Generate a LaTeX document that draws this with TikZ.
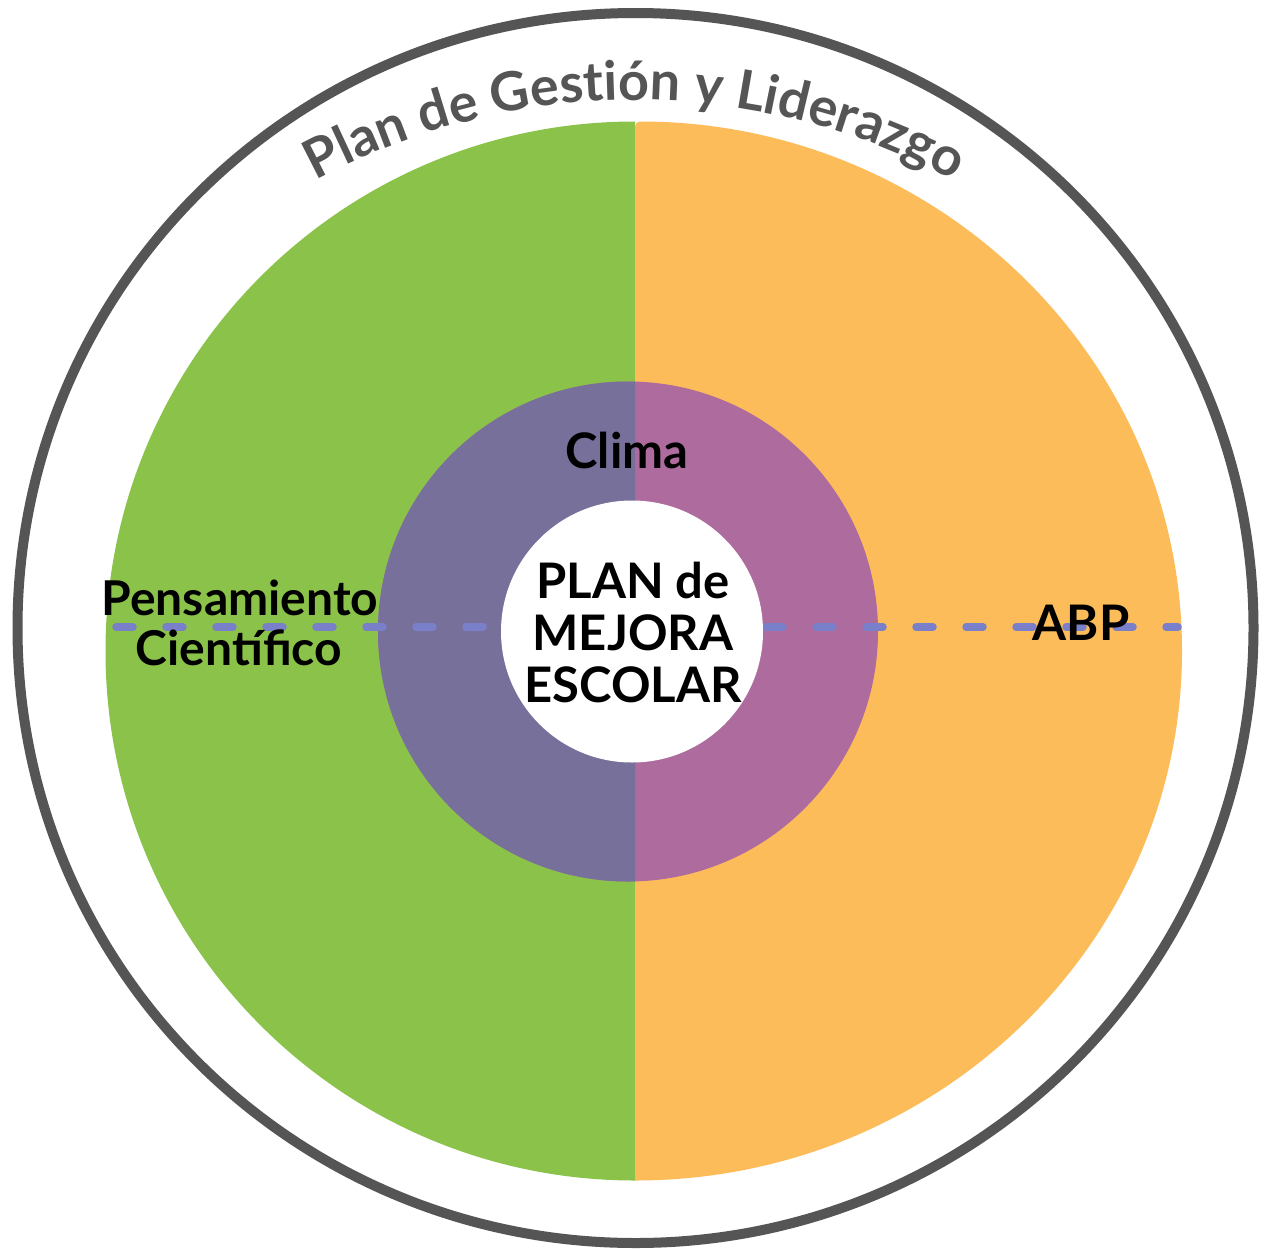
\documentclass[tikz,border=0pt]{standalone}
\usepackage{fontspec}
\setmainfont{Lato}
\usetikzlibrary{decorations.text}
\definecolor{ringgray}{HTML}{555555}
\definecolor{leaf}{HTML}{8BC34A}
\definecolor{amber}{HTML}{FDBC5A}
\definecolor{slate}{HTML}{76709B}
\definecolor{plum}{HTML}{AD6B9E}
\definecolor{dashblue}{HTML}{7A7FC9}
\newfontfamily\arcfont{Lato}
\begin{document}
\begin{tikzpicture}[x=1pt,y=1pt,
  lbl/.style={font=\bfseries\fontsize{49}{52}\selectfont, text=black, inner sep=0pt, anchor=base},
  sidelbl/.style={lbl, font=\bfseries\fontsize{48}{52}\selectfont},
  dashline/.style={draw=dashblue, line width=7.5pt, line cap=round, dash pattern=on 17pt off 33pt}]
\useasboundingbox (0,0) rectangle (1264,-1250);
\fill[white] (0,0) rectangle (1264,-1250);
% outer ring
\draw[ringgray, line width=10pt] (635.5,-628) ellipse [x radius=618, y radius=615];
% halves
\fill[leaf] (635,-121.5) arc[start angle=90,end angle=270,radius=529.5] -- cycle;
\fill[amber, rounded corners=5pt] (635,-1181) -- (635,-121.5) [sharp corners] arc[start angle=90,end angle=-90,x radius=547,y radius=529.5] [rounded corners=5pt] -- cycle;
% purple ring
\fill[plum] (628,-631.5) circle[radius=250];
\begin{scope}
\clip (0,0) rectangle (635,-1250);
\fill[slate] (628,-631.5) circle[radius=250];
\end{scope}
% dashed line
\coordinate (dl) at (116,-627);
\coordinate (dr) at (1178,-627);
\draw[dashline] (dl) -- (dr);
% core
\node[circle, fill=white, minimum size=262pt, inner sep=0pt] (core) at (632,-631.5) {};
\node[lbl] (p1) at (633,-598) {PLAN de};
\node[lbl] (p2) at (633,-650) {MEJORA};
\node[lbl] (p3) at (633,-702) {ESCOLAR};
\node[lbl] (clima) at (627,-468) {Clima};
\node[sidelbl] (pens) at (240,-615) {Pensamiento};
\node[sidelbl] (cien) at (239,-665) {Científico};
\node[lbl] (abp) at (1081,-640) {ABP};
% arc title
\path[decorate, decoration={text along path, text align=center, text color=ringgray,
   text={|\arcfont\bfseries\fontsize{54}{60}\selectfont|Plan de Gestión y Liderazgo}}]
   (635,-770) ++(140:670) arc[start angle=140, end angle=40, radius=670];
\end{tikzpicture}
\end{document}
